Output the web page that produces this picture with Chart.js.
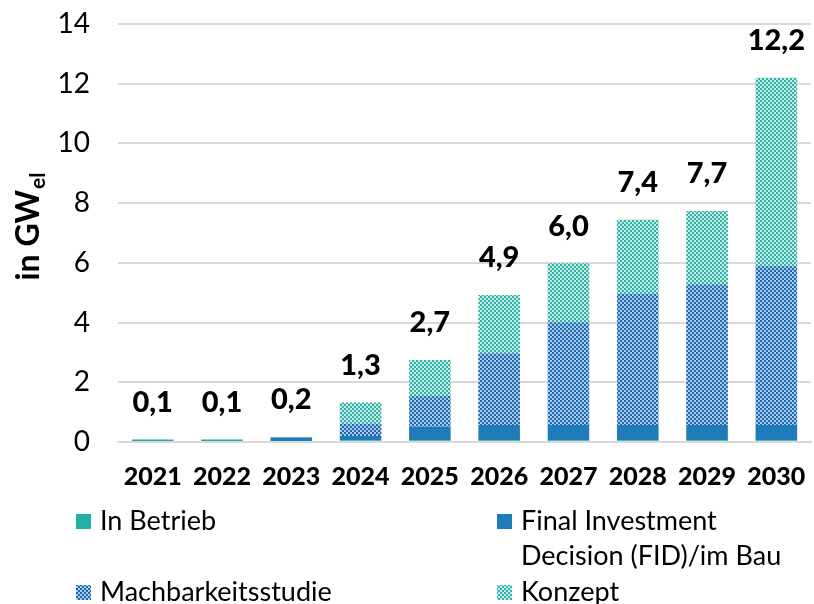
<!DOCTYPE html>
<html>
<head>
<meta charset="utf-8">
<script src="https://cdn.jsdelivr.net/npm/chart.js@4"></script>
<style>
  html, body { margin: 0; padding: 0; background: #fff; }
  #wrap { width: 814px; height: 604px; }
</style>
</head>
<body>
<div id="wrap"><canvas id="chart" width="814" height="604"></canvas></div>
<script>
const years = ['2021', '2022', '2023', '2024', '2025', '2026', '2027', '2028', '2029', '2030'];
const inBetrieb = [0.08, 0.08, 0.03, 0.05, 0.06, 0.06, 0.06, 0.06, 0.06, 0.06];
const fidImBau = [0, 0, 0.12, 0.15, 0.45, 0.51, 0.51, 0.51, 0.51, 0.51];
const machbarkeit = [0, 0, 0, 0.42, 1.03, 2.40, 3.44, 4.39, 4.71, 5.33];
const konzept = [0, 0, 0.02, 0.70, 1.21, 1.95, 1.98, 2.48, 2.46, 6.30];
const totalLabels = ['0,1', '0,1', '0,2', '1,3', '2,7', '4,9', '6,0', '7,4', '7,7', '12,2'];
const yTicks = [0, 2, 4, 6, 8, 10, 12, 14];

const FONT = 'Lato, "Open Sans", sans-serif';

// kleines Schachbrettmuster wie in Excel
function checker(dark, light) {
    const c = document.createElement('canvas');
    c.width = 4; c.height = 4;
    const g = c.getContext('2d');
    g.fillStyle = light;
    g.fillRect(0, 0, 4, 4);
    g.fillStyle = dark;
    g.fillRect(0, 0, 2, 2);
    g.fillRect(2, 2, 2, 2);
    return g.createPattern(c, 'repeat');
}

const ctx = document.getElementById('chart').getContext('2d');
const machPattern = checker('#1f68b0', '#a9cbed');
const konzeptPattern = checker('#2fb3a6', '#c6ebe6');

const datasets = [
    { label: 'In Betrieb', data: inBetrieb, backgroundColor: '#21b1a4' },
    { label: 'Final Investment\nDecision (FID)/im Bau', data: fidImBau, backgroundColor: '#1f7cba' },
    { label: 'Machbarkeitsstudie', data: machbarkeit, backgroundColor: machPattern },
    { label: 'Konzept', data: konzept, backgroundColor: konzeptPattern }
];

const extras = {
    id: 'extras',
    afterDatasetsDraw(chart) {
        const c = chart.ctx;
        const x = chart.scales.x, y = chart.scales.y;
        c.save();
        // Summen über den Balken
        c.fillStyle = '#000';
        c.font = '900 29px ' + FONT;
        c.textAlign = 'center';
        c.textBaseline = 'middle';
        years.forEach((yr, i) => {
            const sum = inBetrieb[i] + fidImBau[i] + machbarkeit[i] + konzept[i];
            c.fillText(totalLabels[i], x.getPixelForValue(i), y.getPixelForValue(sum) - 37);
        });

        // Achsentitel mit Index
        c.save();
        c.translate(39, 227);
        c.rotate(-Math.PI / 2);
        c.textAlign = 'left';
        c.textBaseline = 'alphabetic';
        c.font = 'bold 32px ' + FONT;
        const main = 'in GW';
        const w1 = c.measureText(main).width;
        c.font = 'bold 21px ' + FONT;
        const w2 = c.measureText('el').width;
        const start = -(w1 + w2) / 2;
        c.font = 'bold 32px ' + FONT;
        c.fillText(main, start, 0);
        c.font = 'bold 21px ' + FONT;
        c.fillText('el', start + w1 + 1, 6);
        c.restore();

        // Legende, zweispaltig
        const pos = [[76, 521], [497, 521], [76, 592], [497, 592]];
        c.font = '27px ' + FONT;
        c.textAlign = 'left';
        c.textBaseline = 'middle';
        datasets.forEach((ds, i) => {
            const [lx, ly] = pos[i];
            c.fillStyle = ds.backgroundColor;
            c.fillRect(lx, ly - 7, 15, 15);
            c.fillStyle = '#000';
            ds.label.split('\n').forEach((line, k) => {
                c.fillText(line, lx + 24, ly + k * 35);
            });
        });
        c.restore();
    }
};

new Chart(ctx, {
    type: 'bar',
    data: { labels: years, datasets },
    options: {
        responsive: false,
        animation: false,
        layout: { padding: { top: 24, right: 3, left: 0, bottom: 0 } },
        plugins: { legend: { display: false }, tooltip: { enabled: false } },
        datasets: { bar: { categoryPercentage: 1, barPercentage: 0.6 } },
        scales: {
            x: {
                stacked: true,
                afterFit(s) { s.height = 162; },
                grid: { drawOnChartArea: false, drawTicks: true, tickLength: 20, tickColor: 'rgba(0,0,0,0)' },
                border: { color: '#d9d9d9', width: 2 },
                ticks: { color: '#000', font: { family: FONT, size: 25, weight: '900' }, padding: 0, maxRotation: 0 }
            },
            y: {
                stacked: true,
                min: 0,
                max: 14,
                afterFit(s) { s.width = 118; },
                afterBuildTicks(s) { s.ticks = yTicks.map(v => ({ value: v })); },
                grid: { color: '#d9d9d9', lineWidth: 2, drawTicks: true, tickLength: 28, tickColor: 'rgba(0,0,0,0)' },
                border: { display: false },
                ticks: { color: '#000', font: { family: FONT, size: 28 }, padding: 0 }
            }
        }
    },
    plugins: [extras]
});
</script>
</body>
</html>
